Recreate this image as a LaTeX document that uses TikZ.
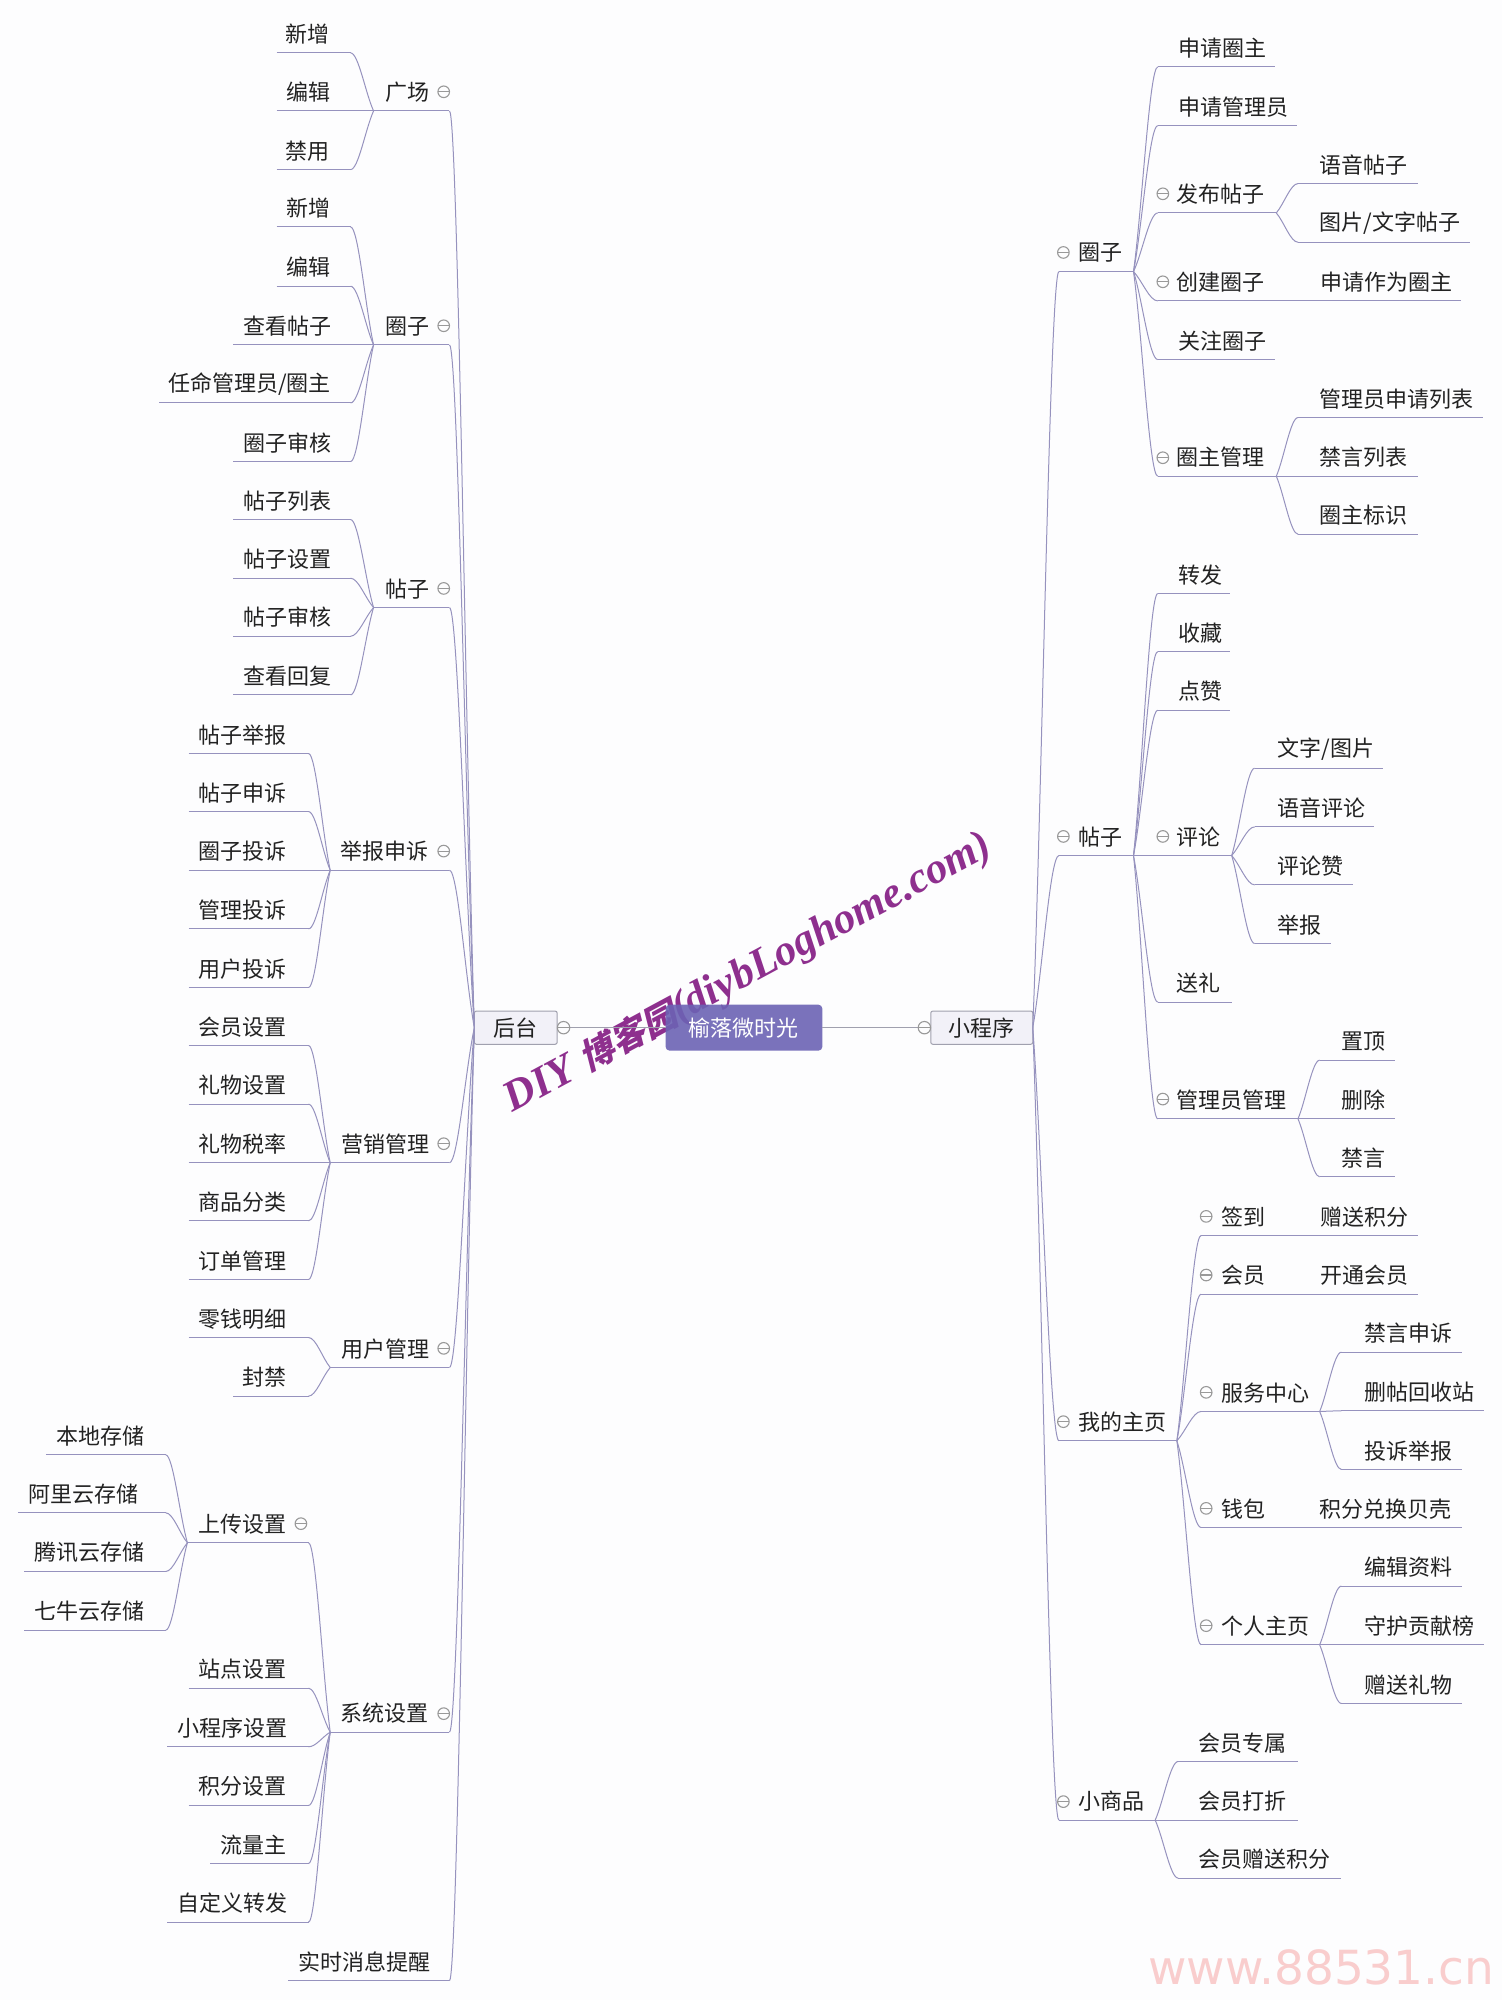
\documentclass[tikz,border=0pt]{standalone}
\usepackage{fontspec}
\usetikzlibrary{calc}
\setmainfont{Noto Sans CJK SC}
\newfontfamily\wmlatin{Liberation Serif}
\newfontfamily\wmcjk[FakeSlant=0.25]{Noto Sans CJK SC}
\newfontfamily\wmurl{DejaVu Sans}
\definecolor{bgc}{HTML}{FDFDFE}
\definecolor{linec}{HTML}{9692BE}
\definecolor{rootc}{HTML}{6C63B4}
\definecolor{boxc}{HTML}{F2F1F8}
\definecolor{boxl}{HTML}{A0A0AE}
\definecolor{txtc}{HTML}{222222}
\definecolor{foldc}{HTML}{999999}
\definecolor{wmc}{HTML}{8E2F8E}
\definecolor{urlc}{HTML}{F9CDCD}
\def\un{0.6375}
\tikzset{
  every node/.style={outer sep=0pt},
  topic/.style={inner sep=0pt,align=left,anchor=south west,font=\fontsize{11pt}{13pt}\selectfont,text=txtc},
  ul/.style={draw=linec,line width=0.5pt},
  conn/.style={draw=linec,line width=0.5pt},
  fold/.style={circle,draw=foldc,line width=0.55pt,inner sep=0pt,minimum size=5.8pt,
    path picture={\draw[foldc,line width=0.55pt] (path picture bounding box.west)--(path picture bounding box.east);}},
  tbox/.style={draw=boxl,fill=boxc,rounded corners=1pt,line width=0.5pt,inner sep=0pt,text=txtc,font=\fontsize{11pt}{13pt}\selectfont},
  rootbox/.style={fill=rootc,fill opacity=0.9,text opacity=1,rounded corners=2pt,inner sep=0pt,text=white,font=\fontsize{11pt}{13pt}\selectfont},
  link/.style={draw=boxl,line width=0.6pt},
}
% name, x1, x2, y of line, x of text, text
\newcommand{\tn}[6]{%
  \pgfmathsetlengthmacro\tnw{(#3-(#2))*\un*1pt}%
  \pgfmathsetlengthmacro\tnp{(#5-(#2))*\un*1pt}%
  \node[topic,text width=\tnw,minimum height=18.8pt] (#1) at (#2,#4) {\hspace*{\tnp}#6};
  \draw[ul] (#1.south west) -- (#1.south east);
}
\newcommand{\rc}[2]{%
  \draw[conn] let \p1=(#1.south east),\p2=(#2.south west) in (\p1) .. controls ({\x1+0.35*(\x2-\x1)},{\y1+0.3*(\y2-\y1)}) and ({\x1+0.66*(\x2-\x1)},\y2) .. (\p2);
}
\newcommand{\lc}[2]{%
  \draw[conn] let \p1=(#1.south west),\p2=(#2.south east) in (\p1) .. controls ({\x1+0.35*(\x2-\x1)},{\y1+0.3*(\y2-\y1)}) and ({\x1+0.66*(\x2-\x1)},\y2) .. (\p2);
}
\newcommand{\rroot}[1]{%
  \draw[conn] let \p1=(app.east),\p2=(#1.south west) in (\p1) .. controls ({\x1+0.35*(\x2-\x1)},{\y1+0.3*(\y2-\y1)}) and ({\x1+0.66*(\x2-\x1)},\y2) .. (\p2);
}
\newcommand{\lroot}[1]{%
  \draw[conn] let \p1=(admin.west),\p2=(#1.south east) in (\p1) .. controls ({\x1+0.35*(\x2-\x1)},{\y1+0.3*(\y2-\y1)}) and ({\x1+0.66*(\x2-\x1)},\y2) .. (\p2);
}
\newcommand{\fd}[3]{\node[fold] (#1) at (#2,#3) {};}
\begin{document}
\begin{tikzpicture}[x=0.6375pt,y=-0.6375pt]
\useasboundingbox (0,0) rectangle (1178,1568.6);
\fill[bgc] (0,0) rectangle (1178,1568.6);
% watermark
\node[rotate=28.3,text=wmc,inner sep=0pt] (wm) at (587,764) {\fontsize{21.6pt}{26pt}\selectfont\wmlatin\bfseries\itshape DIY {\wmcjk\fontsize{17.5pt}{26pt}\selectfont 博客园}(diybLoghome.com)};
\node[text=urlc,inner sep=0pt,anchor=east] (url) at (1172,1543) {\wmurl\fontsize{23.5pt}{26pt}\selectfont www.88531.cn};
% centre
\node[rootbox,minimum width=78.4pt,minimum height=23pt] (root) at (583.5,806) {榆落微时光};
\node[tbox,minimum width=51pt,minimum height=16.6pt] (app) at (770,806) {小程序};
\node[tbox,minimum width=41.4pt,minimum height=16.6pt] (admin) at (404.5,806) {后台};
\draw[link] (root.east) -- (app.west);
\draw[link] (root.west) -- (admin.east);
\node[fold,minimum size=6.2pt] (fapp) at (725,806) {};
\node[fold,minimum size=6.2pt] (fadmin) at (442,806) {};

% ===== right =====
\tn{a}{830.5}{889}{213}{846}{圈子}\fd{fa}{834}{198}\rroot{a}
\tn{a1}{908}{1000}{52.5}{924}{申请圈主}\rc{a}{a1}
\tn{a2}{908}{1017}{98.5}{924}{申请管理员}\rc{a}{a2}
\tn{a3}{908}{1001}{167}{923}{发布帖子}\fd{fa3}{912}{152}\rc{a}{a3}
\tn{a3a}{1018}{1112}{144}{1035}{语音帖子}\rc{a3}{a3a}
\tn{a3b}{1018}{1153}{190}{1035}{图片/文字帖子}\rc{a3}{a3b}
\tn{a4}{908}{1001}{236}{923}{创建圈子}\fd{fa4}{912}{221}\rc{a}{a4}
\tn{a4a}{1001}{1146}{236}{1036}{申请作为圈主}\rc{a4}{a4a}
\tn{a5}{908}{1000}{282}{924}{关注圈子}\rc{a}{a5}
\tn{a6}{908}{1001}{373.5}{923}{圈主管理}\fd{fa6}{912}{359}\rc{a}{a6}
\tn{a6a}{1018}{1163}{327.5}{1035}{管理员申请列表}\rc{a6}{a6a}
\tn{a6b}{1018}{1112}{373.5}{1035}{禁言列表}\rc{a6}{a6b}
\tn{a6c}{1018}{1112}{419}{1035}{圈主标识}\rc{a6}{a6c}

\tn{b}{830.5}{889}{671}{846}{帖子}\fd{fb}{834}{656}\rroot{b}
\tn{b1}{908}{965}{465.5}{924}{转发}\rc{b}{b1}
\tn{b2}{908}{965}{511}{924}{收藏}\rc{b}{b2}
\tn{b3}{908}{965}{557}{924}{点赞}\rc{b}{b3}
\tn{b4}{908}{966}{671}{923}{评论}\fd{fb4}{912}{656}\rc{b}{b4}
\tn{b4a}{984}{1085}{602.5}{1002}{文字/图片}\rc{b4}{b4a}
\tn{b4b}{984}{1078}{648.5}{1002}{语音评论}\rc{b4}{b4b}
\tn{b4c}{984}{1061}{694}{1002}{评论赞}\rc{b4}{b4c}
\tn{b4d}{984}{1044}{740}{1002}{举报}\rc{b4}{b4d}
\tn{b5}{908}{966}{786}{923}{送礼}\rc{b}{b5}
\tn{b6}{908}{1018}{877.5}{923}{管理员管理}\fd{fb6}{912}{862}\rc{b}{b6}
\tn{b6a}{1035}{1094}{831.5}{1052}{置顶}\rc{b6}{b6a}
\tn{b6b}{1035}{1094}{877.5}{1052}{删除}\rc{b6}{b6b}
\tn{b6c}{1035}{1094}{923}{1052}{禁言}\rc{b6}{b6c}

\tn{c}{830.5}{923}{1130}{846}{我的主页}\fd{fc}{834}{1115}\rroot{c}
\tn{c1}{942}{1001}{969}{958}{签到}\fd{fc1}{946}{954}\rc{c}{c1}
\tn{c1a}{1001}{1112}{969}{1036}{赠送积分}\rc{c1}{c1a}
\tn{c2}{942}{1001}{1015}{958}{会员}\fd{fc2}{946}{1000}\rc{c}{c2}
\tn{c2a}{1001}{1112}{1015}{1036}{开通会员}\rc{c2}{c2a}
\tn{c3}{942}{1035}{1107}{958}{服务中心}\fd{fc3}{946}{1092}\rc{c}{c3}
\tn{c3a}{1052}{1147}{1060.5}{1070}{禁言申诉}\rc{c3}{c3a}
\tn{c3b}{1052}{1164}{1106.5}{1070}{删帖回收站}\rc{c3}{c3b}
\tn{c3c}{1052}{1147}{1152.5}{1070}{投诉举报}\rc{c3}{c3c}
\tn{c4}{942}{1001}{1198}{958}{钱包}\fd{fc4}{946}{1183}\rc{c}{c4}
\tn{c4a}{1001}{1147}{1198}{1035}{积分兑换贝壳}\rc{c4}{c4a}
\tn{c5}{942}{1035}{1290}{958}{个人主页}\fd{fc5}{946}{1275}\rc{c}{c5}
\tn{c5a}{1052}{1147}{1244}{1070}{编辑资料}\rc{c5}{c5a}
\tn{c5b}{1052}{1164}{1290}{1070}{守护贡献榜}\rc{c5}{c5b}
\tn{c5c}{1052}{1147}{1336}{1070}{赠送礼物}\rc{c5}{c5c}

\tn{d}{830.5}{906}{1427.5}{846}{小商品}\fd{fd}{834}{1413}\rroot{d}
\tn{d1}{924}{1018}{1381.5}{940}{会员专属}\rc{d}{d1}
\tn{d2}{924}{1018}{1427.5}{940}{会员打折}\rc{d}{d2}
\tn{d3}{924}{1052}{1473}{940}{会员赠送积分}\rc{d}{d3}

% ===== left =====
\tn{e}{293}{352.5}{87}{302}{广场}\fd{fe}{348}{72}\lroot{e}
\tn{e1}{217}{275}{41.5}{224}{新增}\lc{e}{e1}
\tn{e2}{217}{275}{87}{225}{编辑}\lc{e}{e2}
\tn{e3}{217}{275}{133}{224}{禁用}\lc{e}{e3}

\tn{f}{293}{352.5}{270.5}{302}{圈子}\fd{ff}{348}{255.5}\lroot{f}
\tn{f1}{217}{275}{178}{225}{新增}\lc{f}{f1}
\tn{f2}{217}{275}{224.5}{225}{编辑}\lc{f}{f2}
\tn{f3}{183}{275}{270.5}{191}{查看帖子}\lc{f}{f3}
\tn{f4}{125}{275}{316}{132}{任命管理员/圈主}\lc{f}{f4}
\tn{f5}{183}{275}{362}{191}{圈子审核}\lc{f}{f5}

\tn{g}{293}{352.5}{476.5}{302}{帖子}\fd{fg}{348}{461.5}\lroot{g}
\tn{g1}{183}{275}{407.5}{191}{帖子列表}\lc{g}{g1}
\tn{g2}{183}{275}{453.5}{191}{帖子设置}\lc{g}{g2}
\tn{g3}{183}{275}{499}{191}{帖子审核}\lc{g}{g3}
\tn{g4}{183}{275}{545}{191}{查看回复}\lc{g}{g4}

\tn{h}{259}{352.5}{682.5}{267}{举报申诉}\fd{fh}{348}{667.5}\lroot{h}
\tn{h1}{148}{242}{591}{156}{帖子举报}\lc{h}{h1}
\tn{h2}{148}{242}{636.5}{156}{帖子申诉}\lc{h}{h2}
\tn{h3}{148}{242}{682.5}{156}{圈子投诉}\lc{h}{h3}
\tn{h4}{148}{242}{728.5}{156}{管理投诉}\lc{h}{h4}
\tn{h5}{148}{242}{774.5}{156}{用户投诉}\lc{h}{h5}

\tn{i}{259}{352.5}{912}{268}{营销管理}\fd{fi}{348}{897}\lroot{i}
\tn{i1}{148}{242}{820}{156}{会员设置}\lc{i}{i1}
\tn{i2}{148}{242}{866}{156}{礼物设置}\lc{i}{i2}
\tn{i3}{148}{242}{912}{156}{礼物税率}\lc{i}{i3}
\tn{i4}{148}{242}{957.5}{156}{商品分类}\lc{i}{i4}
\tn{i5}{148}{242}{1003.5}{156}{订单管理}\lc{i}{i5}

\tn{j}{259}{352.5}{1072.5}{268}{用户管理}\fd{fj}{348}{1057.5}\lroot{j}
\tn{j1}{148}{242}{1049}{156}{零钱明细}\lc{j}{j1}
\tn{j2}{183}{242}{1095}{190}{封禁}\lc{j}{j2}

\tn{k}{259}{352.5}{1358.5}{267}{系统设置}\fd{fk}{348}{1344}\lroot{k}
\tn{k1}{147}{242}{1210}{156}{上传设置}\fd{fk1}{236}{1195}\lc{k}{k1}
\tn{k1a}{36}{130}{1141}{44}{本地存储}\lc{k1}{k1a}
\tn{k1b}{14}{130}{1186.5}{22}{阿里云存储}\lc{k1}{k1b}
\tn{k1c}{19}{130}{1232.5}{27}{腾讯云存储}\lc{k1}{k1c}
\tn{k1d}{19}{130}{1278.5}{27}{七牛云存储}\lc{k1}{k1d}
\tn{k2}{148}{242}{1324}{156}{站点设置}\lc{k}{k2}
\tn{k3}{131}{242}{1370}{139}{小程序设置}\lc{k}{k3}
\tn{k4}{148}{242}{1416}{156}{积分设置}\lc{k}{k4}
\tn{k5}{165}{242}{1461.5}{173}{流量主}\lc{k}{k5}
\tn{k6}{131}{242}{1507.5}{139}{自定义转发}\lc{k}{k6}

\tn{l}{226}{352.5}{1553.5}{234}{实时消息提醒}\lroot{l}
\end{tikzpicture}
\end{document}
